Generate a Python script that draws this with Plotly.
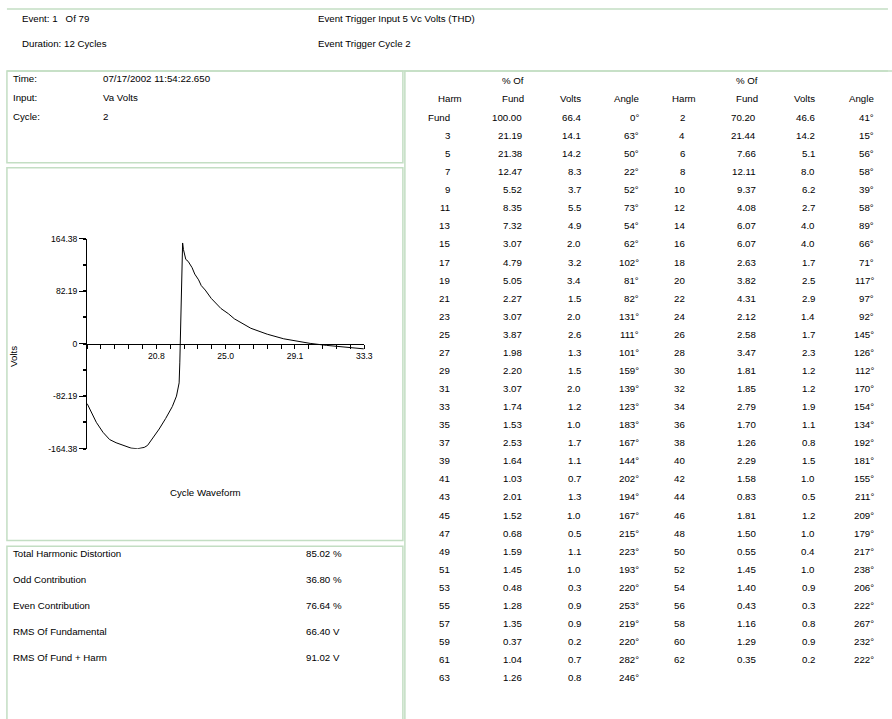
import numpy as np
import plotly.graph_objects as go

W, H = 892, 719

# ---------------- data ----------------
time_ms = [16.67, 16.83, 17.22, 17.62, 18.02, 18.41, 18.81, 19.31, 19.70, 20.10,
           20.30, 20.60, 21.00, 21.39, 21.79, 22.04, 22.14, 22.20, 22.24, 22.30,
           22.36, 22.41, 22.46, 22.53, 22.60, 22.74, 22.98, 23.14, 23.37, 23.53,
           23.77, 24.13, 24.56, 24.72, 25.16, 25.52, 26.51, 27.50, 28.49, 29.48,
           30.08, 31.07, 32.07, 33.30]
volts = [-93.8, -102.5, -123.0, -138.6, -150.0, -155.0, -159.0, -163.4, -164.4, -162.3,
         -159.2, -149.0, -133.5, -117.0, -98.4, -82.0, -66.5, -61.3, -30.0, 36.6,
         113.9, 157.7, 147.4, 136.0, 132.0, 129.0, 119.0, 109.0, 100.0, 91.0,
         84.0, 71.0, 59.0, 55.0, 47.0, 39.0, 24.2, 14.9, 7.7, 3.0,
         0.5, -2.6, -4.6, -8.0]

y_tick_vals = [-164.38, -82.19, 0, 82.19, 164.38]
y_tick_text = ["-164.38", "-82.19", "0", "82.19", "164.38"]
x_label_vals = [20.833, 25.0, 29.167, 33.333]
x_label_text = ["20.8", "25.0", "29.1", "33.3"]

harm_odd = ["Fund", "3", "5", "7", "9", "11", "13", "15", "17", "19", "21", "23", "25",
            "27", "29", "31", "33", "35", "37", "39", "41", "43", "45", "47", "49", "51",
            "53", "55", "57", "59", "61", "63"]
pct_odd = ["100.00", "21.19", "21.38", "12.47", "5.52", "8.35", "7.32", "3.07", "4.79",
           "5.05", "2.27", "3.07", "3.87", "1.98", "2.20", "3.07", "1.74", "1.53", "2.53",
           "1.64", "1.03", "2.01", "1.52", "0.68", "1.59", "1.45", "0.48", "1.28", "1.35",
           "0.37", "1.04", "1.26"]
volts_odd = ["66.4", "14.1", "14.2", "8.3", "3.7", "5.5", "4.9", "2.0", "3.2", "3.4", "1.5",
             "2.0", "2.6", "1.3", "1.5", "2.0", "1.2", "1.0", "1.7", "1.1", "0.7", "1.3",
             "1.0", "0.5", "1.1", "1.0", "0.3", "0.9", "0.9", "0.2", "0.7", "0.8"]
angle_odd = [0, 63, 50, 22, 52, 73, 54, 62, 102, 81, 82, 131, 111, 101, 159, 139, 123,
             183, 167, 144, 202, 194, 167, 215, 223, 193, 220, 253, 219, 220, 282, 246]

harm_even = ["2", "4", "6", "8", "10", "12", "14", "16", "18", "20", "22", "24", "26",
             "28", "30", "32", "34", "36", "38", "40", "42", "44", "46", "48", "50", "52",
             "54", "56", "58", "60", "62"]
pct_even = ["70.20", "21.44", "7.66", "12.11", "9.37", "4.08", "6.07", "6.07", "2.63",
            "3.82", "4.31", "2.12", "2.58", "3.47", "1.81", "1.85", "2.79", "1.70", "1.26",
            "2.29", "1.58", "0.83", "1.81", "1.50", "0.55", "1.45", "1.40", "0.43", "1.16",
            "1.29", "0.35"]
volts_even = ["46.6", "14.2", "5.1", "8.0", "6.2", "2.7", "4.0", "4.0", "1.7", "2.5", "2.9",
              "1.4", "1.7", "2.3", "1.2", "1.2", "1.9", "1.1", "0.8", "1.5", "1.0", "0.5",
              "1.2", "1.0", "0.4", "1.0", "0.9", "0.3", "0.8", "0.9", "0.2"]
angle_even = [41, 15, 56, 58, 39, 58, 89, 66, 71, 117, 97, 92, 145, 126, 112, 170, 154,
              134, 192, 181, 155, 211, 209, 179, 217, 238, 206, 222, 267, 232, 222]

header_left = ["Event: 1\u00a0\u00a0\u00a0Of 79", "Duration: 12 Cycles"]
header_right = ["Event Trigger Input 5 Vc Volts (THD)", "Event Trigger Cycle 2"]
info_labels = ["Time:", "Input:", "Cycle:"]
info_values = ["07/17/2002 11:54:22.650", "Va Volts", "2"]
summary_labels = ["Total Harmonic Distortion", "Odd Contribution", "Even Contribution",
                  "RMS Of Fundamental", "RMS Of Fund + Harm"]
summary_values = ["85.02 %", "36.80 %", "76.64 %", "66.40 V", "91.02 V"]
table_headers_top = ["", "% Of", "", ""]
table_headers = ["Harm", "Fund", "Volts", "Angle"]

# ---------------- helpers ----------------
FONT = "Liberation Sans, Arial, sans-serif"
FS = 9.7
BORDER = "#c3dec3"


def X(px):
    return px / W


def Y(py):
    return 1 - py / H


annotations = []


def txt(s, x, y, anchor="left", size=FS, **kw):
    annotations.append(dict(text=s, x=X(x), y=Y(y), xref="paper", yref="paper",
                            xanchor=anchor, yanchor="middle", showarrow=False,
                            borderpad=0, font=dict(family=FONT, size=size, color="#000"),
                            **kw))


shapes = []


def rect(x0, y0, x1, y1):
    shapes.append(dict(type="rect", xref="paper", yref="paper",
                       x0=X(x0), x1=X(x1), y0=Y(y1), y1=Y(y0),
                       line=dict(color=BORDER, width=1.5), fillcolor="rgba(0,0,0,0)",
                       layer="below"))


def hline(x0, x1, y):
    shapes.append(dict(type="line", xref="paper", yref="paper",
                       x0=X(x0), x1=X(x1), y0=Y(y), y1=Y(y),
                       line=dict(color=BORDER, width=1.5), layer="below"))


# ---------------- boxes ----------------
hline(7, W + 5, 4)
hline(7, W + 5, 67)
rect(7, 67, 407, 160)
rect(7, 165, 407, 543)
rect(7, 549, 407, H + 10)
rect(409, 67, W + 10, H + 10)

# ---------------- header texts ----------------
for i, (a, b) in enumerate(zip(header_left, header_right)):
    yy = 14 + i * 25
    txt(a, 21, yy)
    txt(b, 320, yy)

for i, (a, b) in enumerate(zip(info_labels, info_values)):
    yy = 75 + i * 19
    txt(a, 12, yy)
    txt(b, 103, yy)

for i, (a, b) in enumerate(zip(summary_labels, summary_values)):
    yy = 556 + i * 26.5
    txt(a, 12, yy)
    txt(b, 308, yy)

# ---------------- table ----------------
hdr_right = [468, 530, 588, 647]
val_right = [456, 528, 588, 647]
offset = 236.5
for g in range(2):
    for c in range(4):
        if table_headers_top[c]:
            txt(table_headers_top[c], hdr_right[c] + g * offset, 77, anchor="right")
        txt(table_headers[c], hdr_right[c] + g * offset, 95, anchor="right")

row0, dy = 114, 18.33
for i in range(len(harm_odd)):
    yy = row0 + i * dy
    cols = [harm_odd[i], pct_odd[i], volts_odd[i], f"{angle_odd[i]}°"]
    for c in range(4):
        txt(cols[c], val_right[c], yy, anchor="right")
for i in range(len(harm_even)):
    yy = row0 + i * dy
    cols = [harm_even[i], pct_even[i], volts_even[i], f"{angle_even[i]}°"]
    for c in range(4):
        txt(cols[c], val_right[c] + offset, yy, anchor="right")

# ---------------- chart ----------------
txt("Volts", 13, 356, anchor="center", textangle=-90)
txt("Cycle Waveform", 208, 494, anchor="center")

x_min, x_max = 16.6667, 33.3333
x_ticks = list(np.linspace(x_min, x_max, 21))
x_text = []
for v in x_ticks:
    lab = ""
    for lv, lt in zip(x_label_vals, x_label_text):
        if abs(v - lv) < 0.01:
            lab = lt
    x_text.append(lab)

fig = go.Figure()
fig.add_trace(go.Scatter(x=time_ms, y=volts, mode="lines",
                         line=dict(color="#000", width=1), hoverinfo="skip",
                         showlegend=False))

y_top_px, y_bot_px = 237, 450
y_zero_px = (y_top_px + y_bot_px) / 2

fig.update_layout(
    width=W, height=H,
    margin=dict(l=0, r=0, t=0, b=0),
    paper_bgcolor="white", plot_bgcolor="white",
    showlegend=False,
    annotations=annotations,
    shapes=shapes,
    xaxis=dict(domain=[X(88), X(368)], range=[x_min, x_max], anchor="free",
               position=Y(y_zero_px), showgrid=False, zeroline=False,
               showline=True, linecolor="#000", linewidth=1,
               tickmode="array", tickvals=x_ticks, ticktext=x_text,
               ticks="outside", ticklen=4, tickwidth=1, tickcolor="#000",
               tickfont=dict(family=FONT, size=8.6, color="#000"), fixedrange=True),
    yaxis=dict(domain=[Y(y_bot_px), Y(y_top_px)], range=[-164.38, 164.38],
               anchor="x", showgrid=False, zeroline=False,
               showline=True, linecolor="#000", linewidth=1,
               tickmode="array", tickvals=y_tick_vals, ticktext=y_tick_text,
               ticks="outside", ticklen=7, tickwidth=1, tickcolor="#000",
               minor=dict(tick0=0, dtick=41.095, ticks="outside", ticklen=3,
                          tickcolor="#000", tickwidth=1.5),
               tickfont=dict(family=FONT, size=8.6, color="#000"), fixedrange=True),
)

fig.write_html("out.html")
